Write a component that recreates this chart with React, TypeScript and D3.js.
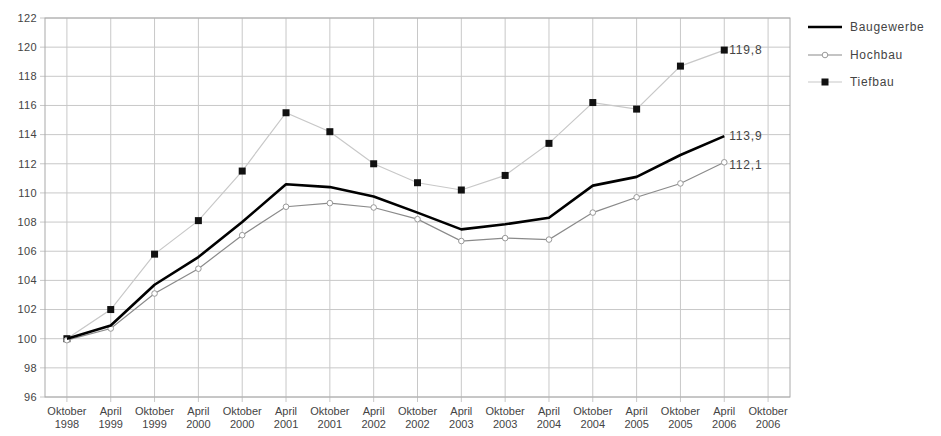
import React from "react";
import * as d3 from "d3";

const months = ["Oktober","April","Oktober","April","Oktober","April","Oktober","April","Oktober","April","Oktober","April","Oktober","April","Oktober","April","Oktober"];
const years = ["1998","1999","1999","2000","2000","2001","2001","2002","2002","2003","2003","2004","2004","2005","2005","2006","2006"];
const baugewerbe = [100, 100.9, 103.7, 105.6, 108.0, 110.6, 110.4, 109.75, 108.65, 107.5, 107.85, 108.3, 110.5, 111.1, 112.6, 113.9];
const hochbau = [99.9, 100.7, 103.1, 104.8, 107.1, 109.05, 109.3, 109.0, 108.2, 106.7, 106.9, 106.8, 108.65, 109.7, 110.65, 112.1];
const tiefbau = [100, 102.0, 105.8, 108.1, 111.5, 115.5, 114.2, 112.0, 110.7, 110.2, 111.2, 113.4, 116.2, 115.75, 118.7, 119.8];
const yTicks = [96, 98, 100, 102, 104, 106, 108, 110, 112, 114, 116, 118, 120, 122];
const endLabels = ["119,8", "113,9", "112,1"];
const legendNames = ["Baugewerbe", "Hochbau", "Tiefbau"];

const W = 941, H = 436;
const L = 45, R = 790, T = 18, B = 397;
const font = "Liberation Sans, Arial, sans-serif";
const txt = "#444";

export default function App() {
  const cats = months.map((m, i) => i);
  const x = d3.scaleBand<number>().domain(cats).range([L, R]).padding(0);
  const cx = (i: number) => (x(i) as number) + x.bandwidth() / 2;
  const y = d3.scaleLinear().domain([96, 122]).range([B, T]);
  const line = d3.line<number>().x((d, i) => cx(i)).y((d) => y(d));
  const last = baugewerbe.length - 1;

  return (
    <svg width={W} height={H} style={{ position: "absolute", left: 0, top: 0, background: "#fff" }} fontFamily={font}>
      {/* horizontal grid */}
      {yTicks.map((t) => (
        <g key={"y" + t}>
          <line x1={L - 5} x2={R} y1={y(t)} y2={y(t)} stroke="#c8c8c8" strokeWidth={1} />
          <text x={L - 8} y={y(t)} dy="0.35em" textAnchor="end" fontSize={11} letterSpacing={0.4} fill={txt}>{t}</text>
        </g>
      ))}
      {/* vertical grid */}
      {cats.map((i) => (
        <g key={"x" + i}>
          <line x1={cx(i)} x2={cx(i)} y1={T} y2={B + 5} stroke="#c8c8c8" strokeWidth={1} />
          <text x={cx(i)} y={B + 18} textAnchor="middle" fontSize={11} fill={txt}>{months[i]}</text>
          <text x={cx(i)} y={B + 31} textAnchor="middle" fontSize={11} fill={txt}>{years[i]}</text>
        </g>
      ))}
      <rect x={L} y={T} width={R - L} height={B - T} fill="none" stroke="#aaa" strokeWidth={1} />

      {/* Tiefbau */}
      <path d={line(tiefbau) as string} fill="none" stroke="#c8c8c8" strokeWidth={1.2} />
      {tiefbau.map((v, i) => (
        <rect key={"t" + i} x={cx(i) - 3.5} y={y(v) - 3.5} width={7} height={7} fill="#111" />
      ))}
      {/* Hochbau */}
      <path d={line(hochbau) as string} fill="none" stroke="#8a8a8a" strokeWidth={1.2} />
      {hochbau.map((v, i) => (
        <circle key={"h" + i} cx={cx(i)} cy={y(v)} r={2.8} fill="#fff" stroke="#999" strokeWidth={1} />
      ))}
      {/* Baugewerbe */}
      <path d={line(baugewerbe) as string} fill="none" stroke="#000" strokeWidth={2.6} strokeLinejoin="round" />

      {/* end labels */}
      <text x={cx(last) + 5} y={y(tiefbau[last])} dy="0.35em" fontSize={12} letterSpacing={0.8} fill={txt}>{endLabels[0]}</text>
      <text x={cx(last) + 5} y={y(baugewerbe[last])} dy="0.35em" fontSize={12} letterSpacing={0.8} fill={txt}>{endLabels[1]}</text>
      <text x={cx(last) + 5} y={y(hochbau[last]) + 2} dy="0.35em" fontSize={12} letterSpacing={0.8} fill={txt}>{endLabels[2]}</text>

      {/* legend */}
      <g>
        <line x1={808} x2={842} y1={27} y2={27} stroke="#000" strokeWidth={2.6} />
        <text x={850} y={27} dy="0.35em" fontSize={12} letterSpacing={0.7} fill={txt}>{legendNames[0]}</text>
        <line x1={808} x2={842} y1={55} y2={55} stroke="#8a8a8a" strokeWidth={1.2} />
        <circle cx={825} cy={55} r={2.8} fill="#fff" stroke="#999" />
        <text x={850} y={55} dy="0.35em" fontSize={12} letterSpacing={0.7} fill={txt}>{legendNames[1]}</text>
        <line x1={808} x2={842} y1={82} y2={82} stroke="#c8c8c8" strokeWidth={1.2} />
        <rect x={821.5} y={78.5} width={7} height={7} fill="#111" />
        <text x={850} y={82} dy="0.35em" fontSize={12} letterSpacing={0.7} fill={txt}>{legendNames[2]}</text>
      </g>
    </svg>
  );
}
